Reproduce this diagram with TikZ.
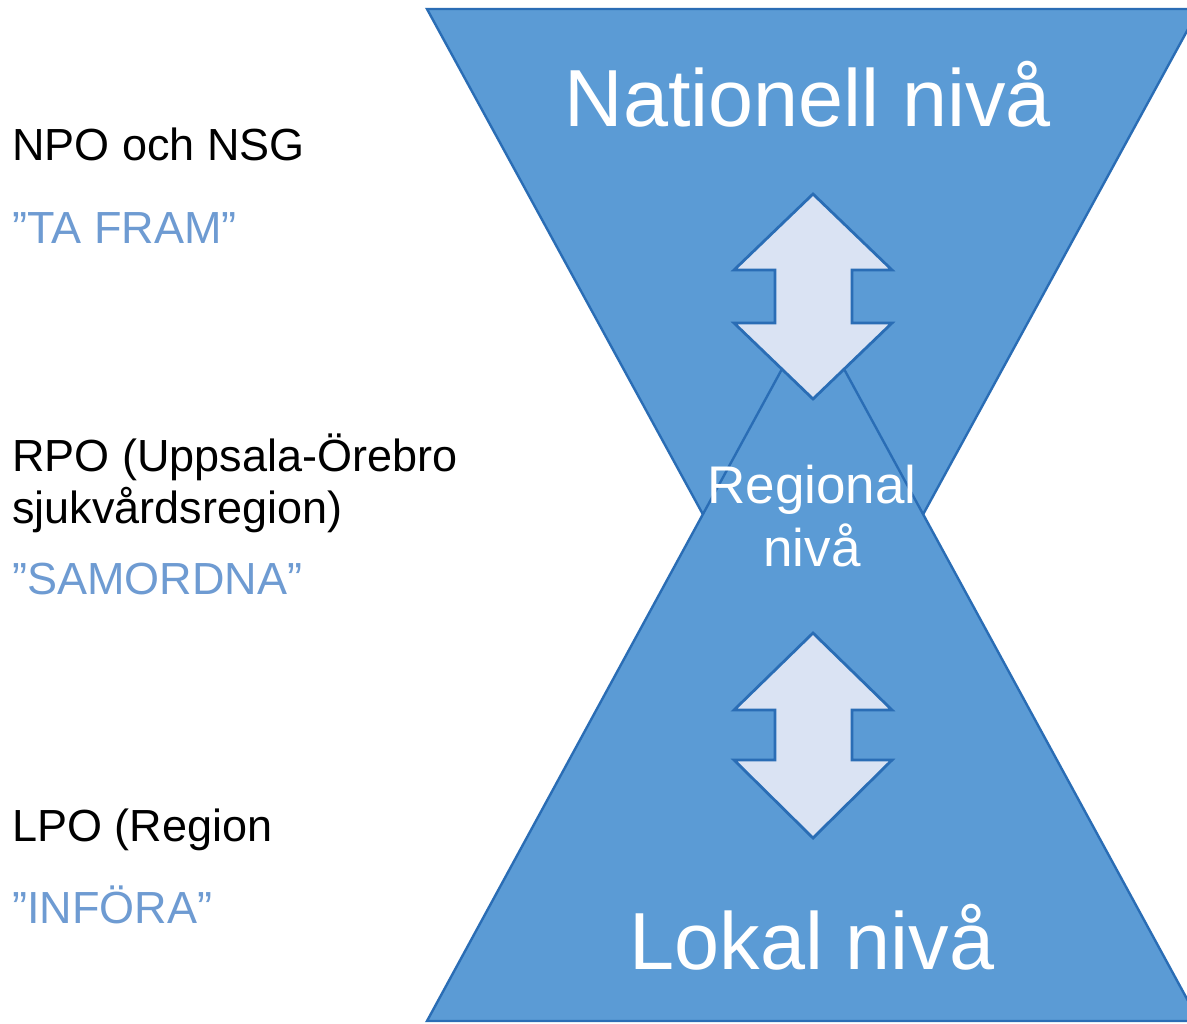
\documentclass[tikz,border=0pt]{standalone}
\usepackage{fontspec}
\setmainfont{Liberation Sans}
\definecolor{tri}{HTML}{5B9BD5}
\definecolor{edge}{HTML}{2A6DB5}
\definecolor{arrfill}{HTML}{DAE3F3}
\definecolor{quote}{HTML}{6E9BD2}
\tikzset{
  tribox/.style={fill=tri, draw=edge, line width=1.2pt, line join=miter},
  arrbox/.style={fill=arrfill, draw=edge, line width=1.4pt, line join=miter},
  lefttxt/.style={anchor=base west, inner sep=0pt, font=\fontsize{22.5}{26}\selectfont, text=black},
  quotetxt/.style={lefttxt, text=quote},
  bigtxt/.style={anchor=base, inner sep=0pt, font=\fontsize{40.5}{46}\selectfont, text=white},
  midtxt/.style={anchor=base, inner sep=0pt, font=\fontsize{26.5}{31.5}\selectfont, text=white, align=center}
}
\begin{document}
\begin{tikzpicture}[x=0.5pt,y=-0.5pt]
\useasboundingbox (0,0) rectangle (1187,1023);
\fill[white] (0,0) rectangle (1187,1023);
\begin{scope}
\clip (0,0) rectangle (1187,1023);
% top (national) triangle
\draw[tribox] (427,9) -- (1199,9) -- (813,716) -- cycle;
% bottom (local) triangle
\draw[tribox] (427,1021) -- (1199,1021) -- (813,312) -- cycle;
\end{scope}
% upper double arrow
\draw[arrbox] (813,194) -- (892,270) -- (852,270) -- (852,323) -- (892,323) -- (813,399)
  -- (734,323) -- (775,323) -- (775,270) -- (734,270) -- cycle;
% lower double arrow
\draw[arrbox] (813,633) -- (892,710) -- (852,710) -- (852,760) -- (892,760) -- (813,838)
  -- (734,760) -- (775,760) -- (775,710) -- (734,710) -- cycle;
% level labels
\node[bigtxt] (nat) at (808,126) {Nationell nivå};
\node[midtxt] (reg1) at (812,503) {Regional};
\node[midtxt] (reg2) at (812,566) {nivå};
\node[bigtxt] (lok) at (812,969) {Lokal nivå};
% left labels
\node[lefttxt] (npo) at (12,160) {NPO och NSG};
\node[quotetxt] (tafram) at (12,243) {”TA FRAM”};
\node[lefttxt] (rpo1) at (12,471) {RPO (Uppsala-Örebro};
\node[lefttxt] (rpo2) at (12,523) {sjukvårdsregion)};
\node[quotetxt] (samordna) at (12,594) {”SAMORDNA”};
\node[lefttxt] (lpo) at (12,841) {LPO (Region};
\node[quotetxt] (infora) at (12,923) {”INFÖRA”};
\end{tikzpicture}
\end{document}
